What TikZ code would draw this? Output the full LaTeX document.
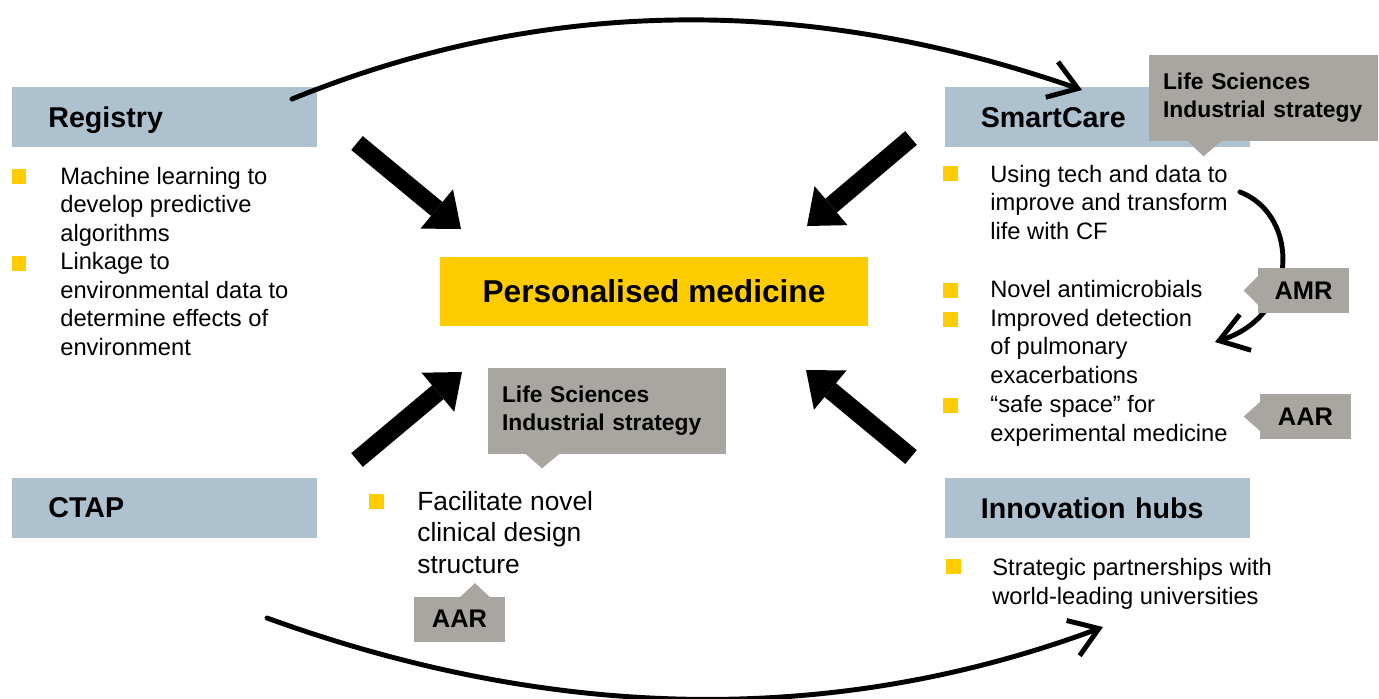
\documentclass[tikz,border=0pt]{standalone}
\usepackage{fontspec}
\setmainfont{Liberation Sans}
\usetikzlibrary{arrows.meta, positioning}
\definecolor{hubblue}{HTML}{ADC1CF}
\definecolor{pmyellow}{HTML}{FFCC00}
\definecolor{taggrey}{HTML}{A9A6A1}
\tikzset{
  header/.style = {rectangle, fill=hubblue, minimum height=1.2cm, inner xsep=0.72cm, text width=4.66cm, text depth=0pt, align=left, font=\fontsize{16.3}{19}\selectfont\bfseries},
  mainbox/.style = {rectangle, fill=pmyellow, minimum width=8.56cm, minimum height=1.38cm, font=\fontsize{18}{21}\selectfont\bfseries},
  tagbox/.style = {rectangle, fill=taggrey, inner xsep=0.28cm, minimum height=1.72cm, align=left, font=\fontsize{13}{15.9}\selectfont\bfseries},
  smalltag/.style = {rectangle, fill=taggrey, minimum width=1.82cm, minimum height=0.9cm, inner sep=0pt, font=\fontsize{14.5}{17}\selectfont\bfseries},
  bulletsq/.style = {rectangle, fill=pmyellow, minimum size=0.3cm, inner sep=0pt},
  listtext/.style = {anchor=base west, inner sep=0pt, align=left, font=\fontsize{13.5}{16.2}\selectfont},
  biglisttext/.style = {listtext, font=\fontsize{15}{17.9}\selectfont},
  fatarrow/.style = {line width=0.36cm, -{Triangle[length=0.63cm, width=1.02cm, line width=0pt]}},
  swoosh/.style = {line width=2.8pt, line cap=round, -{Straight Barb[length=0.55cm, width=0.75cm]}}
}

\begin{document}
\begin{tikzpicture}[x=0.02cm, y=-0.02cm]
  \useasboundingbox (0,0) rectangle (1379,698);

  % Level 0: Personalised medicine
  \node (personal) [mainbox] at (654,291.5) {Personalised medicine};

  % Level 1: the four programmes
  \node (registry) [header, anchor=north west] at (12,87) {Registry};
  \node (smartcare) [header, right=12.54cm of registry] {SmartCare};
  \node (ctap) [header, below=6.6cm of registry] {CTAP};
  \node (hubs) [header, below=6.6cm of smartcare] {Innovation hubs};

  % Registry items (placed at the baseline of their last line)
  \node (regbulleta) [bulletsq] at (19,176) {};
  \node (regtexta) [listtext] at (60,241) {Machine learning to\\develop predictive\\algorithms};
  \node (regbulletb) [bulletsq] at (19,263) {};
  \node (regtextb) [listtext] at (60,355) {Linkage to\\environmental data to\\determine effects of\\environment};

  % SmartCare items
  \node (scbulleta) [bulletsq] at (950,173) {};
  \node (sctexta) [listtext] at (990,239) {Using tech and data to\\improve and transform\\life with CF};
  \node (scbulletb) [bulletsq] at (950,290) {};
  \node (sctextb) [listtext] at (990,297) {Novel antimicrobials};
  \node (scbulletc) [bulletsq] at (950,319) {};
  \node (sctextc) [listtext] at (990,383) {Improved detection\\of pulmonary\\exacerbations};
  \node (scbulletd) [bulletsq] at (950,405) {};
  \node (sctextd) [listtext] at (990,441) {“safe space” for\\experimental medicine};

  % CTAP item
  \node (ctbullet) [bulletsq] at (376,501) {};
  \node (cttext) [biglisttext] at (417,573) {Facilitate novel\\clinical design\\structure};

  % Innovation hubs item
  \node (hubbullet) [bulletsq] at (953,566) {};
  \node (hubtext) [listtext] at (992,604) {Strategic partnerships with\\world-leading universities};

  % SmartCare loop (under the AMR tag)
  \coordinate (loopfrom) at (1240,192);
  \coordinate (loopto) at (1215,342);
  \draw[swoosh] (loopfrom) .. controls (1300,215) and (1300,315) .. (loopto);

  % Tags
  \node (lstop) [tagbox, text width=4.02cm] at (1263.5,98) {Life Sciences\\Industrial strategy};
  \fill[taggrey] ([xshift=-1.53cm, yshift=0.02cm]lstop.south) -- ([xshift=-1.2cm, yshift=-0.3cm]lstop.south) -- ([xshift=-0.83cm, yshift=0.02cm]lstop.south) -- cycle;
  \node (lsbottom) [tagbox, text width=4.2cm] at (607,411) {Life Sciences\\Industrial strategy};
  \fill[taggrey] ([xshift=-1.64cm, yshift=0.02cm]lsbottom.south) -- ([xshift=-1.3cm, yshift=-0.28cm]lsbottom.south) -- ([xshift=-0.94cm, yshift=0.02cm]lsbottom.south) -- cycle;
  \node (amr) [smalltag] at (1303.5,290.5) {AMR};
  \fill[taggrey] ([xshift=0.02cm, yshift=0.3cm]amr.west) -- ([xshift=-0.28cm]amr.west) -- ([xshift=0.02cm, yshift=-0.3cm]amr.west) -- cycle;
  \node (aarright) [smalltag] at (1305.5,416.5) {AAR};
  \fill[taggrey] ([xshift=0.02cm, yshift=0.3cm]aarright.west) -- ([xshift=-0.32cm]aarright.west) -- ([xshift=0.02cm, yshift=-0.3cm]aarright.west) -- cycle;
  \node (aarbottom) [smalltag] at (459.5,619) {AAR};
  \fill[taggrey] ([xshift=0.01cm, yshift=-0.02cm]aarbottom.north) -- ([xshift=0.31cm, yshift=0.26cm]aarbottom.north) -- ([xshift=0.61cm, yshift=-0.02cm]aarbottom.north) -- cycle;

  % Fat arrows into the centre
  \coordinate (regtail) at (357,143);
  \coordinate (regtip) at (461,229);
  \coordinate (sctail) at (911,138);
  \coordinate (sctip) at (807,226);
  \coordinate (cttail) at (357,460);
  \coordinate (cttip) at (462,372);
  \coordinate (hubtail) at (911,457);
  \coordinate (hubtip) at (806,370);
  \draw[fatarrow] (regtail) -- (regtip);
  \draw[fatarrow] (sctail) -- (sctip);
  \draw[fatarrow] (cttail) -- (cttip);
  \draw[fatarrow] (hubtail) -- (hubtip);

  % Sweeping arrows between programmes
  \coordinate (toparcfrom) at (292,99);
  \coordinate (toparcto) at (1082,90);
  \coordinate (botarcfrom) at (267,618);
  \coordinate (botarcto) at (1103,627);
  \draw[swoosh] (toparcfrom) .. controls (543,-3) and (806,-6) .. (toparcto);
  \draw[swoosh] (botarcfrom) .. controls (557,723) and (836,726) .. (botarcto);
\end{tikzpicture}
\end{document}
